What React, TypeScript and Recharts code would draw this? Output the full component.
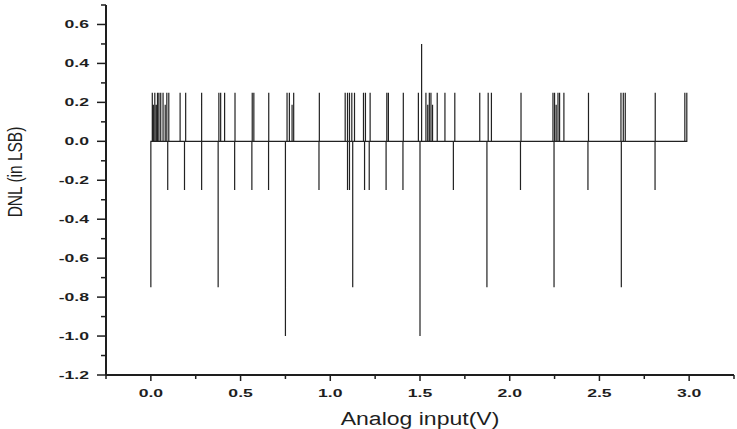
import { Label, Line, LineChart, XAxis, YAxis } from "recharts";

// DNL spikes: [analog input (V), DNL (LSB)]
const upSpikes: [number, number][] = [
  [0.008, 0.25], [0.014, 0.1875], [0.022, 0.25], [0.03, 0.1875], [0.037, 0.25],
  [0.045, 0.25], [0.055, 0.25], [0.068, 0.25], [0.08, 0.1875], [0.089, 0.25],
  [0.1, 0.25], [0.163, 0.25], [0.194, 0.25], [0.283, 0.25], [0.379, 0.25],
  [0.389, 0.25], [0.411, 0.25], [0.469, 0.25], [0.565, 0.25], [0.574, 0.25],
  [0.657, 0.25], [0.759, 0.25], [0.772, 0.25], [0.787, 0.1875], [0.796, 0.25],
  [0.939, 0.25], [1.083, 0.25], [1.096, 0.25], [1.107, 0.25], [1.12, 0.25],
  [1.135, 0.25], [1.185, 0.25], [1.196, 0.25], [1.222, 0.25], [1.315, 0.25],
  [1.324, 0.25], [1.407, 0.25], [1.491, 0.25], [1.509, 0.5], [1.533, 0.25],
  [1.543, 0.1875], [1.552, 0.25], [1.561, 0.25], [1.57, 0.1875], [1.596, 0.25],
  [1.639, 0.25], [1.694, 0.25], [1.833, 0.25], [1.88, 0.25], [1.898, 0.25],
  [2.063, 0.25], [2.241, 0.25], [2.25, 0.25], [2.259, 0.1875], [2.269, 0.25],
  [2.278, 0.25], [2.302, 0.25], [2.439, 0.25], [2.62, 0.25], [2.633, 0.25],
  [2.644, 0.25], [2.811, 0.25], [2.976, 0.25], [2.987, 0.25],
];

const downSpikes: [number, number][] = [
  [0.0, -0.75], [0.094, -0.25], [0.1875, -0.25], [0.283, -0.25], [0.375, -0.75],
  [0.467, -0.25], [0.563, -0.25], [0.656, -0.25], [0.75, -1.0], [0.937, -0.25],
  [1.096, -0.25], [1.107, -0.25], [1.125, -0.75], [1.191, -0.25], [1.217, -0.25],
  [1.311, -0.25], [1.405, -0.25], [1.5, -1.0], [1.686, -0.25], [1.873, -0.75],
  [2.06, -0.25], [2.247, -0.75], [2.436, -0.25], [2.622, -0.75], [2.81, -0.25],
];

const lastX = 2.99;

const xTicks = [-0.25, 0, 0.25, 0.5, 0.75, 1, 1.25, 1.5, 1.75, 2, 2.25, 2.5, 2.75, 3, 3.25];
const yTicks = [
  -1.2, -1.1, -1.0, -0.9, -0.8, -0.7, -0.6, -0.5, -0.4, -0.3, -0.2, -0.1,
  0, 0.1, 0.2, 0.3, 0.4, 0.5, 0.6, 0.7,
];

// each spike goes 0 -> value -> 0 at the same x
const events = [...upSpikes, ...downSpikes].sort((a, b) => a[0] - b[0]);
const data: { x: number; y: number }[] = [];
for (const [x, y] of events) {
  data.push({ x, y: 0 }, { x, y }, { x, y: 0 });
}
data.push({ x: lastX, y: 0 });

const ink = "#1e1e1e";
const font = "'Liberation Sans', Arial, sans-serif";

function XTick(props: any) {
  const { x, y, payload } = props;
  const v = payload.value as number;
  const major = Math.abs(v * 2 - Math.round(v * 2)) < 1e-6 && v >= 0 && v <= 3;
  return (
    <g>
      <line x1={x} x2={x} y1={y} y2={y + (major ? 6 : 4)} stroke={ink} strokeWidth={1.5} />
      {major && (
        <text
          transform={`translate(${x},${y + 22}) scale(1.6,1)`}
          textAnchor="middle"
          fontSize={11}
          fontWeight="bold"
          fontFamily={font}
          fill={ink}
        >
          {v.toFixed(1)}
        </text>
      )}
    </g>
  );
}

function YTick(props: any) {
  const { x, y, payload } = props;
  const v = payload.value as number;
  const major = Math.abs(Math.round(v * 10)) % 2 === 0 && v <= 0.6;
  return (
    <g>
      <line x1={x - (major ? 9 : 5)} x2={x} y1={y} y2={y} stroke={ink} strokeWidth={1.5} />
      {major && (
        <text
          transform={`translate(${x - 17},${y + 4}) scale(1.6,1)`}
          textAnchor="end"
          fontSize={11}
          fontWeight="bold"
          fontFamily={font}
          fill={ink}
        >
          {v.toFixed(1)}
        </text>
      )}
    </g>
  );
}

export default function App() {
  return (
    <div style={{ position: "absolute", left: 0, top: 0, background: "#fff" }}>
      <LineChart
        width={737}
        height={429}
        data={data}
        margin={{ top: 5, right: 3, bottom: 0, left: 6 }}
      >
        <XAxis
          type="number"
          dataKey="x"
          domain={[-0.25, 3.25]}
          ticks={xTicks}
          interval={0}
          height={54}
          tickSize={0}
          tickMargin={0}
          tickLine={false}
          axisLine={{ stroke: ink, strokeWidth: 2 }}
          tick={(p: any) => <XTick {...p} />}
        >
          <Label
            content={() => (
              <text
                transform="translate(420,425) scale(1.28,1)"
                textAnchor="middle"
                fontSize={18}
                fontFamily={font}
                fill={ink}
              >
                Analog input(V)
              </text>
            )}
          />
        </XAxis>
        <YAxis
          type="number"
          domain={[-1.2, 0.7]}
          ticks={yTicks}
          interval={0}
          width={100}
          tickSize={0}
          tickMargin={0}
          tickLine={false}
          axisLine={{ stroke: ink, strokeWidth: 2 }}
          tick={(p: any) => <YTick {...p} />}
        >
          <Label
            content={() => (
              <text
                transform="translate(22,172) scale(1.25,1) rotate(-90)"
                textAnchor="middle"
                fontSize={15.5}
                fontFamily={font}
                fill={ink}
              >
                DNL (in LSB)
              </text>
            )}
          />
        </YAxis>
        <Line
          type="linear"
          dataKey="y"
          stroke="#222"
          strokeWidth={1.2}
          dot={false}
          isAnimationActive={false}
        />
      </LineChart>
    </div>
  );
}
